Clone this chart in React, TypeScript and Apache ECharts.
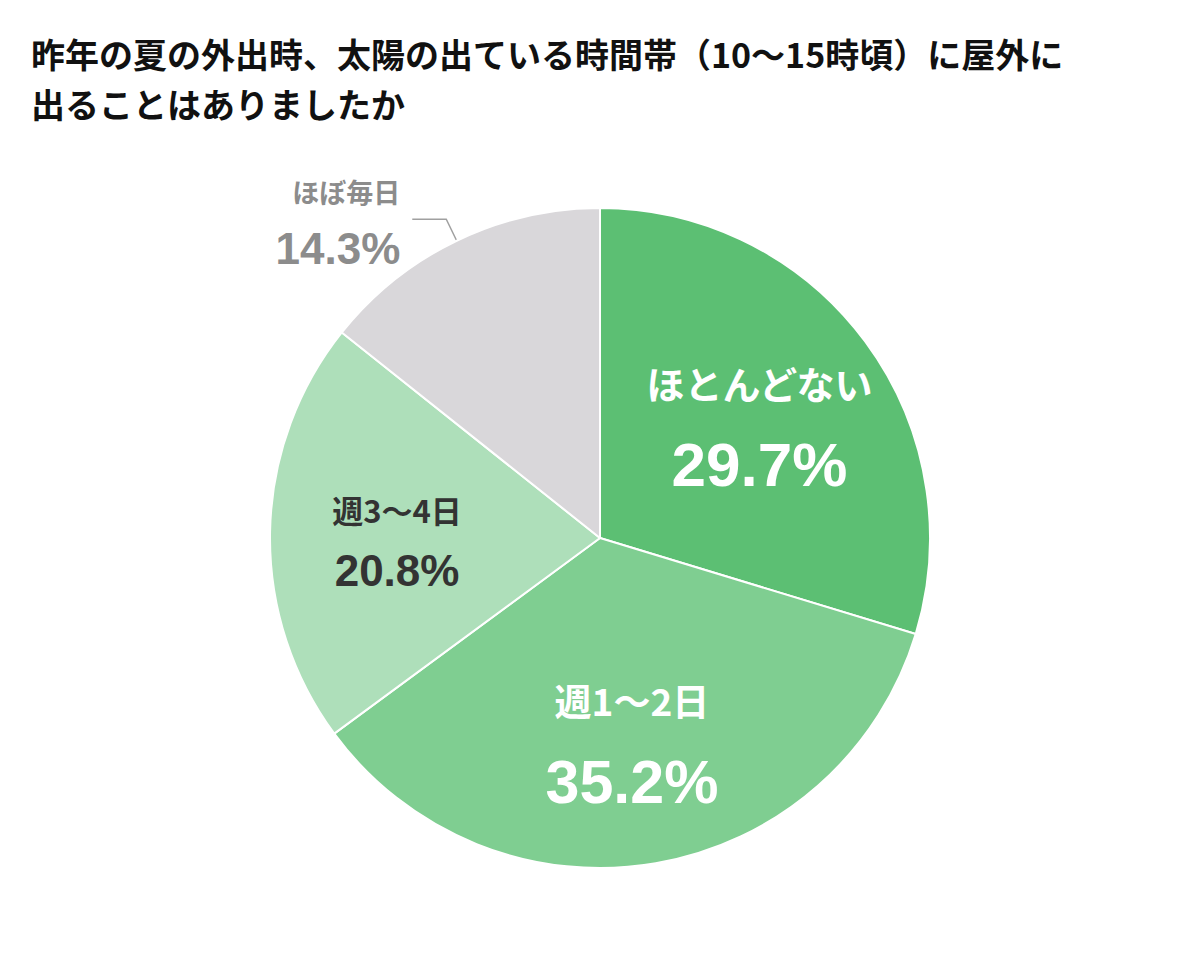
import React, { useEffect, useRef } from "react";
import * as echarts from "echarts";

const categories = ["ほとんどない", "週1～2日", "週3～4日", "ほぼ毎日"];
const values = [29.7, 35.2, 20.8, 14.3];
const colors = ["#5cbf73", "#7fce91", "#aedfba", "#d9d7da"];
const labelColors = ["#ffffff", "#ffffff", "#333333", "#8c8c8c"];
const titleLines = [
  "昨年の夏の外出時、太陽の出ている時間帯（10～15時頃）に屋外に",
  "出ることはありましたか",
];

const R = 330;

export default function App() {
  const ref = useRef<HTMLDivElement>(null);
  useEffect(() => {
    if (!ref.current) return;
    const chart = echarts.init(ref.current, null, { renderer: "svg" });
    const total = values.reduce((a, b) => a + b, 0);
    const mids: number[] = [];
    let cum = 0;
    values.forEach((v) => {
      mids.push(((cum + v / 2) / total) * Math.PI * 2);
      cum += v;
    });
    const nameSizes = [38, 37, 31, 27];
    const valSizes = [62, 61, 44, 44];
    const nameLH = [80, 80, 60, 54];
    const valLH = [84, 84, 62, 60];
    const data = categories.map((name, i) => {
      const outside = i === 3;
      return {
        name,
        value: values[i],
        itemStyle: { color: colors[i] },
        label: {
          show: true,
          position: outside ? "outside" : "inside",
          align: outside ? "right" : "center",
          formatter: `{a|${name}}\n{b|${values[i].toFixed(1)}%}`,
          rich: {
            a: {
              fontSize: nameSizes[i],
              fontWeight: "bold",
              color: labelColors[i],
              fontFamily: "'Noto Sans CJK JP', sans-serif",
              lineHeight: nameLH[i],
              align: outside ? "right" : "center",
            },
            b: {
              fontSize: valSizes[i],
              fontWeight: "bold",
              color: labelColors[i],
              fontFamily: "'Liberation Sans', Arial, sans-serif",
              lineHeight: valLH[i],
              align: outside ? "right" : "center",
            },
          },
        },
        labelLine: outside
          ? { show: true, length: 24, length2: 34, lineStyle: { color: "#a0a0a0", width: 1.5 } }
          : { show: false },
      };
    });
    const titleStyle = {
      fontSize: 34,
      lineHeight: 40,
      fontWeight: "bold",
      color: "#111111",
      fontFamily: "'Noto Sans CJK JP', sans-serif",
    };
    chart.setOption({
      animation: false,
      backgroundColor: "#ffffff",
      title: titleLines.map((t, i) => ({
        text: t,
        left: 31,
        top: 33 + i * 50,
        padding: 0,
        textStyle: titleStyle,
      })),
      series: [
        {
          type: "pie",
          center: [600, 538],
          radius: [0, R],
          startAngle: 90,
          clockwise: true,
          silent: true,
          itemStyle: { borderColor: "#ffffff", borderWidth: 2 },
          label: { distanceToLabelLine: 12 },
          labelLayout: (params: any) => {
            const i = params.dataIndex;
            if (i === 3) return { dy: 2 };
            const a = mids[i];
            const k = 0.1 * R;
            return { dx: k * Math.sin(a) - 2, dy: -k * Math.cos(a) + 6 };
          },
          data,
        },
      ],
    });
    return () => chart.dispose();
  }, []);
  return (
    <div
      ref={ref}
      style={{ position: "fixed", left: 0, top: 0, width: 1200, height: 970 }}
    />
  );
}
